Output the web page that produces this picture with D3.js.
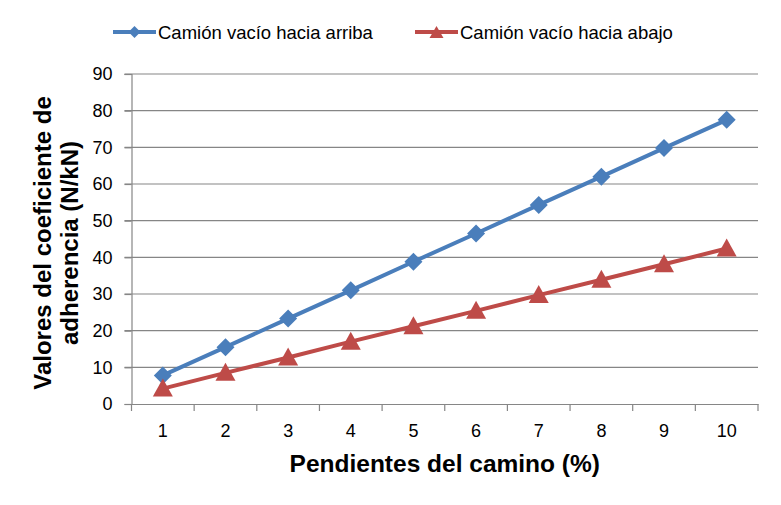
<!DOCTYPE html>
<html>
<head>
<meta charset="utf-8">
<script src="https://cdn.jsdelivr.net/npm/d3@7"></script>
<style>
  body { margin: 0; background: #fff; }
  text { font-family: "Liberation Sans", Arial, sans-serif; }
</style>
</head>
<body>
<svg id="chart" width="781" height="505"></svg>
<script>
const pendientes = [1, 2, 3, 4, 5, 6, 7, 8, 9, 10];
const haciaArriba = [7.8, 15.5, 23.3, 31.0, 38.8, 46.5, 54.3, 62.0, 69.8, 77.5];
const haciaAbajo = [4.2, 8.5, 12.7, 17.0, 21.2, 25.4, 29.7, 33.9, 38.1, 42.4];
const yTicks = [0, 10, 20, 30, 40, 50, 60, 70, 80, 90];

const series = [
  { name: "Camión vacío hacia arriba", values: haciaArriba, color: "#4a7ebb", marker: "diamond" },
  { name: "Camión vacío hacia abajo", values: haciaAbajo, color: "#be4b48", marker: "triangle" },
];

const margin = { top: 74, right: 23, bottom: 101, left: 131.5 };
const width = 781, height = 505;
const plotW = width - margin.left - margin.right;
const plotH = height - margin.top - margin.bottom;

const svg = d3.select("#chart");
const g = svg.append("g")
  .attr("transform", "translate(" + margin.left + "," + margin.top + ")");

const x = d3.scaleBand().domain(pendientes).range([0, plotW]);
const y = d3.scaleLinear().domain([0, 90]).range([plotH, 0]);

// gridlines
g.selectAll(".grid")
  .data(yTicks.filter((d) => d !== 0))
  .join("line")
  .attr("x1", -7)
  .attr("x2", plotW)
  .attr("y1", (d) => y(d))
  .attr("y2", (d) => y(d))
  .attr("stroke", "#868686")
  .attr("stroke-width", 1.2);

// y axis
const yAxis = g.append("g")
  .call(d3.axisLeft(y).tickValues(yTicks).tickSize(7).tickPadding(12));
yAxis.select(".domain").attr("stroke", "#868686").attr("stroke-width", 1.2);
yAxis.selectAll(".tick line").attr("stroke", "#868686").attr("stroke-width", 1.2);
yAxis.selectAll("text")
  .attr("font-size", 18)
  .attr("fill", "#000")
  .style("font-family", "Liberation Sans, Arial, sans-serif");

// x axis
const xAxis = g.append("g")
  .attr("transform", "translate(0," + plotH + ")")
  .call(d3.axisBottom(x).tickSize(0).tickPadding(20));
xAxis.select(".domain").attr("stroke", "#868686").attr("stroke-width", 1.2);
xAxis.selectAll("text")
  .attr("font-size", 18)
  .attr("fill", "#000")
  .style("font-family", "Liberation Sans, Arial, sans-serif");

// x ticks between categories
const bounds = pendientes.map((d) => x(d)).concat([plotW]);
g.selectAll(".xtick")
  .data(bounds)
  .join("line")
  .attr("x1", (d) => d)
  .attr("x2", (d) => d)
  .attr("y1", plotH)
  .attr("y2", plotH + 7)
  .attr("stroke", "#868686")
  .attr("stroke-width", 1.2);

const cx = (d, i) => x(pendientes[i]) + x.bandwidth() / 2;

const line = d3.line()
  .x((d, i) => cx(d, i))
  .y((d) => y(d));

const diamond = "M0,-9L9,0L0,9L-9,0Z";
const triangle = "M0,-10L10,8L-10,8Z";

series.forEach((s) => {
  g.append("path")
    .attr("d", line(s.values))
    .attr("fill", "none")
    .attr("stroke", s.color)
    .attr("stroke-width", 4);

  g.selectAll(".m-" + s.marker)
    .data(s.values)
    .join("path")
    .attr("d", s.marker === "diamond" ? diamond : triangle)
    .attr("transform", (d, i) => "translate(" + cx(d, i) + "," + y(d) + ")")
    .attr("fill", s.color);
});

// legend
const legendX = [113, 415];
series.forEach((s, i) => {
  const lg = svg.append("g").attr("transform", "translate(" + legendX[i] + ",32)");
  lg.append("line")
    .attr("x1", 0).attr("x2", 43)
    .attr("y1", 0).attr("y2", 0)
    .attr("stroke", s.color)
    .attr("stroke-width", 4);
  lg.append("path")
    .attr("d", s.marker === "diamond" ? "M0,-6L6,0L0,6L-6,0Z" : "M0,-6L7,6L-7,6Z")
    .attr("transform", "translate(21.5,0)")
    .attr("fill", s.color);
  lg.append("text")
    .attr("x", 45)
    .attr("y", 6.5)
    .attr("font-size", 18.5)
    .attr("fill", "#000")
    .text(s.name);
});

// axis titles
svg.append("text")
  .attr("x", margin.left + plotW / 2)
  .attr("y", 472)
  .attr("text-anchor", "middle")
  .attr("font-size", 24.5)
  .attr("font-weight", "bold")
  .text("Pendientes del camino (%)");

const yTitle = svg.append("text")
  .attr("transform", "translate(0,243) rotate(-90)")
  .attr("text-anchor", "middle")
  .attr("font-size", 24)
  .attr("font-weight", "bold");
yTitle.append("tspan").attr("x", 0).attr("y", 51).text("Valores del coeficiente de");
yTitle.append("tspan").attr("x", 0).attr("y", 78).text("adherencia (N/kN)");
</script>
</body>
</html>
